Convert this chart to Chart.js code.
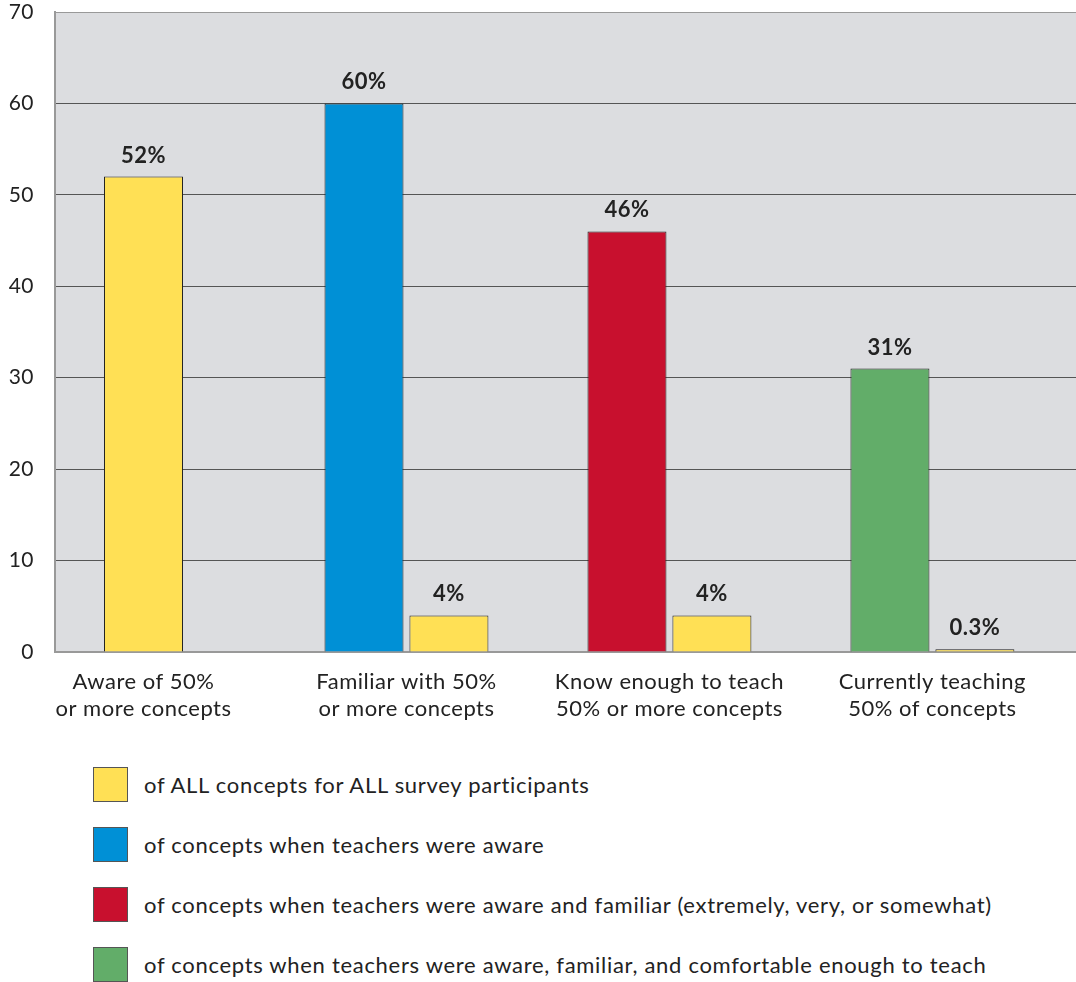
<!DOCTYPE html>
<html>
<head>
<meta charset="utf-8">
<title>Concept awareness and teaching</title>
<script src="https://cdn.jsdelivr.net/npm/chart.js@4/dist/chart.umd.min.js"></script>
<style>
  body { margin: 0; background: #fff; font-family: Lato, "Open Sans", sans-serif; }
  #wrap { position: relative; width: 1076px; height: 982px; }
  #chart { position: absolute; left: 0; top: 0; }
  #legend { position: absolute; left: 93px; top: 767px; }
  .item { display: flex; align-items: center; height: 35px; margin-bottom: 25px; }
  .swatch { width: 33px; height: 33px; border: 1.5px solid #555; box-sizing: content-box; }
  .text { margin-left: 16px; font-size: 22px; letter-spacing: 0.7px; color: #222; white-space: nowrap; }
</style>
</head>
<body>
<div id="wrap">
  <canvas id="chart" width="1076" height="745"></canvas>
  <div id="legend"></div>
</div>
<script>
// ---------------------------------------------------------------------------
// Data
// ---------------------------------------------------------------------------

const categories = [
  ["Aware of 50%", "or more concepts"],
  ["Familiar with 50%", "or more concepts"],
  ["Know enough to teach", "50% or more concepts"],
  ["Currently teaching", "50% of concepts"],
];

// share of concepts within each group's own subset of teachers
const subsetValues = [52, 60, 46, 31];
// same measure over ALL concepts for ALL survey participants
const allValues = [null, 4, 4, 0.3];

const yTicks = [0, 10, 20, 30, 40, 50, 60, 70];

const legendLabels = [
  "of ALL concepts for ALL survey participants",
  "of concepts when teachers were aware",
  "of concepts when teachers were aware and familiar (extremely, very, or somewhat)",
  "of concepts when teachers were aware, familiar, and comfortable enough to teach",
];

// ---------------------------------------------------------------------------
// Styling
// ---------------------------------------------------------------------------

const YELLOW = "#ffe055";
const BLUE = "#0090d6";
const RED = "#c8102e";
const GREEN = "#62ad69";
const subsetColors = [YELLOW, BLUE, RED, GREEN];
const legendColors = [YELLOW, BLUE, RED, GREEN];

const FONT = "Lato, 'Open Sans', sans-serif";
const PLOT_BG = "#dcdde0";
const GRID = "#555";
const FRAME = "#999";

// fills the plot area behind the grid; also widens letter spacing for all canvas text
const plotBackground = {
  id: "plotBackground",
  beforeDraw(chart) {
    const { ctx, chartArea: a } = chart;
    ctx.letterSpacing = "0.5px";
    ctx.save();
    ctx.fillStyle = PLOT_BG;
    ctx.fillRect(a.left, a.top, a.right - a.left, a.bottom - a.top);
    ctx.restore();
  },
};

// bold percentage above each bar
const valueLabels = {
  id: "valueLabels",
  afterDatasetsDraw(chart) {
    const { ctx } = chart;
    ctx.save();
    ctx.font = `bold 22px ${FONT}`;
    ctx.fillStyle = "#222";
    ctx.textAlign = "center";
    ctx.textBaseline = "alphabetic";
    chart.data.datasets.forEach((ds, di) => {
      const meta = chart.getDatasetMeta(di);
      meta.data.forEach((bar, i) => {
        const v = ds.data[i].y;
        if (v === null || v === undefined) return;
        ctx.fillText(`${v}%`, bar.x, bar.y - 14);
      });
    });
    ctx.restore();
  },
};

const toPoints = (values) => values.map((y, i) => ({ x: i, y }));

new Chart(document.getElementById("chart"), {
  type: "bar",
  data: {
    datasets: [
      {
        data: toPoints(subsetValues),
        backgroundColor: subsetColors,
        borderColor: "#222",
        borderWidth: 1,
      },
      {
        data: toPoints(allValues),
        backgroundColor: YELLOW,
        borderColor: "#222",
        borderWidth: 1,
      },
    ],
  },
  options: {
    responsive: false,
    animation: false,
    skipNull: true,
    categoryPercentage: 0.646,
    barPercentage: 0.93,
    maxBarThickness: 79,
    layout: { padding: { top: 12, right: 0, left: 0, bottom: 0 } },
    plugins: {
      legend: { display: false },
      tooltip: { enabled: false },
    },
    scales: {
      x: {
        type: "linear",
        offset: false,
        min: -0.3365,
        max: 3.546,
        afterBuildTicks: (scale) => {
          scale.ticks = categories.map((_, i) => ({ value: i }));
        },
        afterFit: (scale) => {
          scale.height = 93;
          scale.paddingLeft = 0;
          scale.paddingRight = 0;
        },
        grid: { display: false },
        border: { color: FRAME, width: 2 },
        ticks: {
          autoSkip: false,
          maxRotation: 0,
          padding: 8,
          color: "#222",
          font: { family: FONT, size: 22, lineHeight: 1.25 },
          callback: (value) => categories[value],
        },
      },
      y: {
        min: 0,
        max: 70,
        afterBuildTicks: (scale) => {
          scale.ticks = yTicks.map((value) => ({ value }));
        },
        afterFit: (scale) => {
          scale.width = 55;
          scale.paddingTop = 0;
          scale.paddingBottom = 0;
        },
        grid: {
          drawTicks: false,
          lineWidth: 1,
          color: (ctx) => (ctx.tick && (ctx.tick.value === 0 || ctx.tick.value === 70) ? FRAME : GRID),
        },
        border: { color: FRAME, width: 2 },
        ticks: {
          padding: 21,
          color: "#222",
          font: { family: FONT, size: 21 },
        },
      },
    },
  },
  plugins: [plotBackground, valueLabels],
});

// legend rows built from the same colour list
const legend = document.getElementById("legend");
legendLabels.forEach((label, i) => {
  const row = document.createElement("div");
  row.className = "item";
  const sw = document.createElement("div");
  sw.className = "swatch";
  sw.style.background = legendColors[i];
  const txt = document.createElement("div");
  txt.className = "text";
  txt.textContent = label;
  row.appendChild(sw);
  row.appendChild(txt);
  legend.appendChild(row);
});
</script>
</body>
</html>
